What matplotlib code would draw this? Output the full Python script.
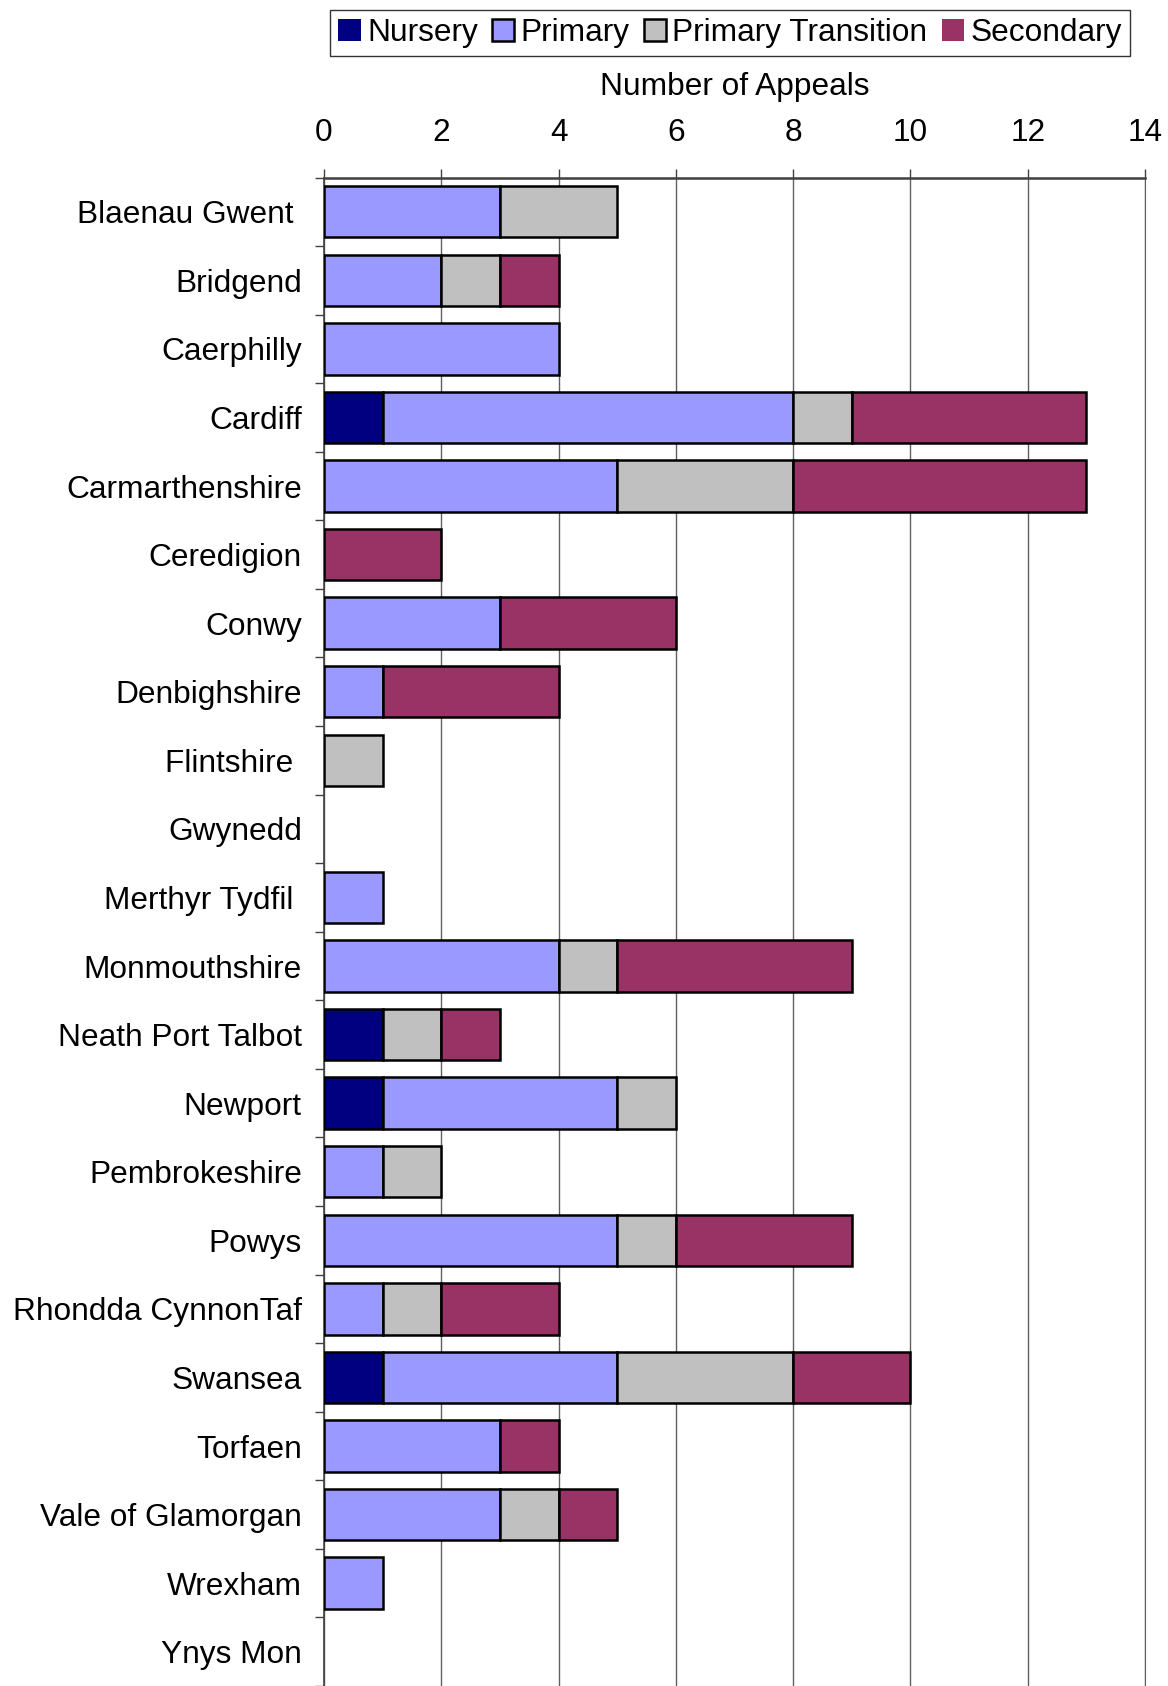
import matplotlib.pyplot as plt
import numpy as np

plt.rcParams["font.family"] = ["Liberation Sans", "DejaVu Sans"]

regions = [
    "Blaenau Gwent ", "Bridgend", "Caerphilly", "Cardiff", "Carmarthenshire",
    "Ceredigion", "Conwy", "Denbighshire", "Flintshire ", "Gwynedd",
    "Merthyr Tydfil ", "Monmouthshire", "Neath Port Talbot", "Newport",
    "Pembrokeshire", "Powys", "Rhondda CynnonTaf", "Swansea", "Torfaen",
    "Vale of Glamorgan", "Wrexham", "Ynys Mon",
]
nursery = [0, 0, 0, 1, 0, 0, 0, 0, 0, 0, 0, 0, 1, 1, 0, 0, 0, 1, 0, 0, 0, 0]
primary = [3, 2, 4, 7, 5, 0, 3, 1, 0, 0, 1, 4, 0, 4, 1, 5, 1, 4, 3, 3, 1, 0]
transition = [2, 1, 0, 1, 3, 0, 0, 0, 1, 0, 0, 1, 1, 1, 1, 1, 1, 3, 0, 1, 0, 0]
secondary = [0, 1, 0, 4, 5, 2, 3, 3, 0, 0, 0, 4, 1, 0, 0, 3, 2, 2, 1, 1, 0, 0]

series = [
    ("Nursery", nursery, "#000080"),
    ("Primary", primary, "#9999FF"),
    ("Primary Transition", transition, "#C0C0C0"),
    ("Secondary", secondary, "#993366"),
]

FS = 22.8

fig = plt.figure(figsize=(11.68, 16.86), dpi=100)
top_px = 177.5
ax = fig.add_axes([324 / 1168, 0, (1145 - 324) / 1168, (1686 - top_px) / 1686])

y = np.arange(len(regions))
left = np.zeros(len(regions))
handles = []
for name, vals, color in series:
    vals = np.array(vals, dtype=float)
    lws = np.where(vals > 0, 1.8, 0)
    b = ax.barh(y, vals, left=left, height=0.75, color=color,
                edgecolor="black", linewidth=lws, zorder=3, label=name)
    handles.append(b)
    left += vals

ax.set_xlim(0, 14)
ax.set_ylim(21.5 - 5 / 68.8, -0.5)
ax.set_xticks(range(0, 15, 2))
ax.xaxis.tick_top()
ax.xaxis.set_label_position("top")
ax.set_xlabel("Number of Appeals", fontsize=FS, labelpad=16)
ax.tick_params(axis="x", labelsize=FS, length=6.5, width=1, color="#404040", pad=15)

ax.set_yticks(y)
ax.set_yticklabels(regions, fontsize=FS)
ax.tick_params(axis="y", which="major", length=0, pad=16)
ax.set_yticks(np.arange(-0.5, len(regions), 1), minor=True)
ax.tick_params(axis="y", which="minor", length=6.5, width=1, color="#404040")

ax.grid(axis="x", color="#606060", linewidth=1, zorder=0)
ax.spines["top"].set_linewidth(1.8)
ax.spines["top"].set_color("#404040")
ax.spines["left"].set_color("#404040")
ax.spines["left"].set_linewidth(1.2)
ax.spines["right"].set_color("#606060")
ax.spines["bottom"].set_visible(False)

fig.legend(handles=handles, loc="center", bbox_to_anchor=(730 / 1168, 1 - 33 / 1686),
           ncol=4, fontsize=FS, frameon=True, fancybox=False, edgecolor="black",
           handlelength=0.7, handleheight=0.7, handletextpad=0.2,
           columnspacing=0.45, borderpad=0.25, borderaxespad=0)

fig.savefig("out.png", dpi=100)
